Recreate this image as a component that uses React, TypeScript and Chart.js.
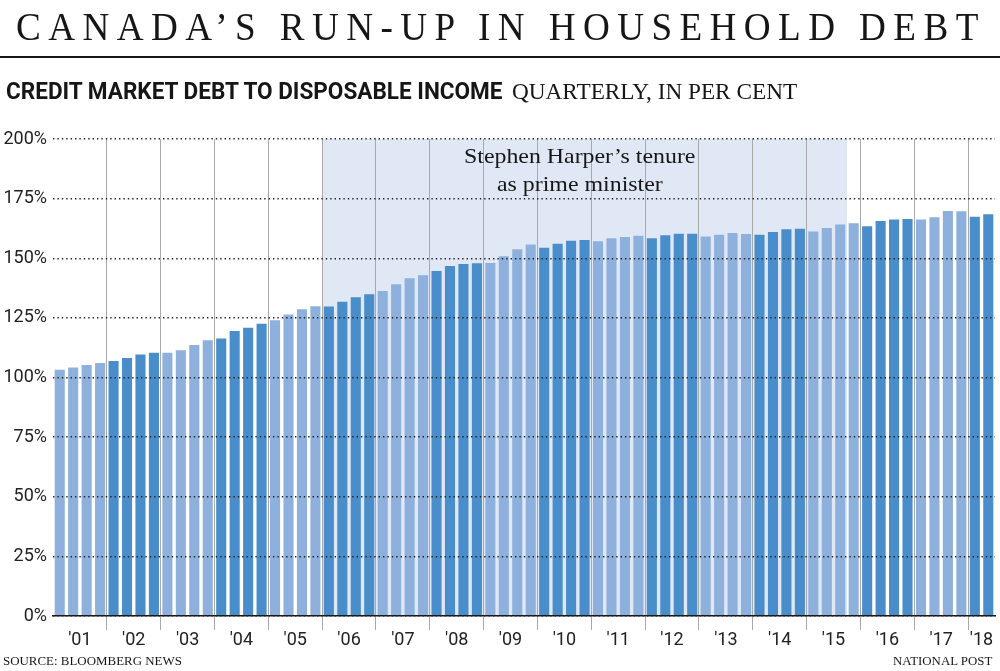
import React, { useEffect, useLayoutEffect, useRef, useState } from "react";
import { Chart, registerables } from "chart.js";

Chart.register(...registerables);

// ---------- DATA ----------
const years = [
  "2001", "2002", "2003", "2004", "2005", "2006", "2007", "2008", "2009",
  "2010", "2011", "2012", "2013", "2014", "2015", "2016", "2017", "2018",
];
const yearTickLabels = [
  "'01", "'02", "'03", "'04", "'05", "'06", "'07", "'08", "'09",
  "'10", "'11", "'12", "'13", "'14", "'15", "'16", "'17", "'18",
];
const quarterNames = ["Q1", "Q2", "Q3", "Q4"];
const quartersInLastYear = 2;

// Credit market debt to disposable income, quarterly, %
const debtRatio = [
  103.2, 104.2, 105.2, 106.1, // 2001
  106.9, 108.2, 109.6, 110.4, // 2002
  110.4, 111.4, 113.6, 115.6, // 2003
  116.3, 119.5, 120.9, 122.5, // 2004
  124.0, 126.4, 128.6, 129.9, // 2005
  129.8, 131.8, 133.6, 134.9, // 2006
  136.3, 139.1, 141.6, 142.9, // 2007
  144.7, 146.8, 147.6, 147.9, // 2008
  148.0, 150.8, 153.8, 155.8, // 2009
  154.4, 156.1, 157.3, 157.7, // 2010
  157.1, 158.4, 158.9, 159.4, // 2011
  158.4, 159.6, 160.3, 160.3, // 2012
  159.1, 159.9, 160.6, 160.2, // 2013
  159.9, 161.0, 162.2, 162.4, // 2014
  161.2, 162.7, 164.1, 164.7, // 2015
  163.4, 165.6, 166.2, 166.5, // 2016
  166.2, 167.2, 169.8, 169.7, // 2017
  167.4, 168.5,               // 2018
];

const harperFrom = "2006 Q1";
const harperTo = "2015 Q3";

const yMin = 0;
const yMax = 200;
const yStep = 25;

// ---------- STYLE ----------
const lightBar = "#8eb0dd";
const darkBar = "#4a8dcb";
const harperShade = "#e1e8f5";
const gridGray = "#a9a9a9";
const inkColor = "#161616";

// ---------- derived tables ----------
const categories: string[] = [];
const yearIndexOf: number[] = [];
years.forEach((y, yi) => {
  const n = yi === years.length - 1 ? quartersInLastYear : 4;
  for (let q = 0; q < n; q++) {
    categories.push(`${y} ${quarterNames[q]}`);
    yearIndexOf.push(yi);
  }
});
// label shown at the middle of each year's group
const tickLabelAt: string[] = categories.map(() => "");
years.forEach((y, yi) => {
  const first = yearIndexOf.indexOf(yi);
  const n = yearIndexOf.filter((v) => v === yi).length;
  tickLabelAt[first + n / 2 - 1] = yearTickLabels[yi];
});

function FitText(props: {
  text: string;
  left: number;
  top: number;
  width: number;
  style: React.CSSProperties;
}) {
  const ref = useRef<HTMLSpanElement>(null);
  const [sx, setSx] = useState(1);
  useLayoutEffect(() => {
    const measure = () => {
      if (!ref.current) return;
      const w = ref.current.offsetWidth;
      if (w > 0) setSx(props.width / w);
    };
    measure();
    if ((document as any).fonts && (document as any).fonts.ready) {
      (document as any).fonts.ready.then(measure);
    }
  }, [props.text, props.width]);
  return (
    <span
      ref={ref}
      style={{
        position: "absolute",
        left: props.left,
        top: props.top,
        whiteSpace: "nowrap",
        display: "inline-block",
        transformOrigin: "left top",
        transform: `scaleX(${sx})`,
        ...props.style,
      }}
    >
      {props.text}
    </span>
  );
}

function BarChart() {
  const ref = useRef<HTMLCanvasElement>(null);
  useEffect(() => {
    if (!ref.current) return;
    const bg = categories.map((_, i) => (yearIndexOf[i] % 2 === 0 ? lightBar : darkBar));

    const shadePlugin = {
      id: "harperShade",
      beforeDraw(chart: any) {
        const x = chart.scales.x;
        const { top, bottom } = chart.chartArea;
        const half = (x.getPixelForValue(1) - x.getPixelForValue(0)) / 2;
        const i0 = categories.indexOf(harperFrom);
        const i1 = categories.indexOf(harperTo);
        const left = x.getPixelForValue(i0) - half;
        const right = x.getPixelForValue(i1) + half;
        const ctx = chart.ctx;
        ctx.save();
        ctx.fillStyle = harperShade;
        ctx.fillRect(left, top, right - left, bottom - top);
        ctx.restore();
      },
    };

    const chart = new Chart(ref.current, {
      type: "bar",
      data: {
        labels: categories,
        datasets: [
          {
            data: debtRatio,
            backgroundColor: bg,
            borderWidth: 0,
            barPercentage: 0.75,
            categoryPercentage: 1,
          },
        ],
      },
      options: {
        responsive: false,
        animation: false,
        layout: { padding: { top: 139, right: 5, left: 0, bottom: 0 } },
        plugins: {
          legend: { display: false },
          tooltip: { enabled: false },
          title: { display: false },
        },
        scales: {
          x: {
            grid: {
              offset: true,
              color: (ctx: any) =>
                ctx.index !== undefined && ctx.index > 0 && ctx.index % 4 === 0
                  ? gridGray
                  : "rgba(0,0,0,0)",
              lineWidth: 1,
              tickLength: 14,
              z: -1,
            },
            border: { display: true, color: inkColor, width: 1.5, z: 1 },
            ticks: {
              autoSkip: false,
              maxRotation: 0,
              minRotation: 0,
              labelOffset: 6.73,
              padding: 0,
              color: "#222",
              font: { family: "Roboto", size: 18 },
              callback: (_v: any, i: number) => tickLabelAt[i],
            },
            afterFit: (s: any) => {
              s.height = 55;
            },
          },
          y: {
            min: yMin,
            max: yMax,
            ticks: {
              stepSize: yStep,
              padding: 6,
              color: "#222",
              font: { family: "Roboto", size: 18 },
              callback: (v: any) => `${v}%`,
            },
            grid: {
              color: "#222",
              lineWidth: 1.4,
              drawTicks: false,
              z: 1,
            },
            border: { display: false, dash: [1.4, 3] },
            afterFit: (s: any) => {
              s.width = 53;
            },
          },
        },
      } as any,
      plugins: [shadePlugin],
    });
    return () => chart.destroy();
  }, []);
  return (
    <canvas
      ref={ref}
      width={1000}
      height={671}
      style={{ position: "absolute", left: 0, top: 0, width: 1000, height: 671 }}
    />
  );
}

export default function App() {
  const serif = '"Liberation Serif", "Times New Roman", serif';
  return (
    <div
      style={{
        position: "absolute",
        left: 0,
        top: 0,
        width: 1000,
        height: 671,
        background: "#fff",
        overflow: "hidden",
        color: inkColor,
      }}
    >
      <BarChart />
      <FitText
        text="CANADA’S RUN-UP IN HOUSEHOLD DEBT"
        left={16}
        top={6.5}
        width={970}
        style={{ fontFamily: serif, fontSize: 40, lineHeight: "40px", letterSpacing: 8 }}
      />
      <div
        style={{
          position: "absolute",
          left: 0,
          top: 56,
          width: 1000,
          height: 2,
          background: inkColor,
        }}
      />
      <FitText
        text="CREDIT MARKET DEBT TO DISPOSABLE INCOME"
        left={6}
        top={78.8}
        width={497}
        style={{ fontFamily: "Roboto", fontWeight: 700, fontSize: 24, lineHeight: "24px" }}
      />
      <FitText
        text="QUARTERLY, IN PER CENT"
        left={512}
        top={79.7}
        width={285}
        style={{ fontFamily: serif, fontSize: 23, lineHeight: "23px" }}
      />
      <FitText
        text="Stephen Harper’s tenure"
        left={464}
        top={144.6}
        width={231}
        style={{ fontFamily: serif, fontSize: 22, lineHeight: "22px" }}
      />
      <FitText
        text="as prime minister"
        left={497}
        top={172.6}
        width={166}
        style={{ fontFamily: serif, fontSize: 22, lineHeight: "22px" }}
      />
      <FitText
        text="SOURCE: BLOOMBERG NEWS"
        left={3}
        top={654}
        width={179}
        style={{ fontFamily: serif, fontSize: 13, lineHeight: "13px" }}
      />
      <FitText
        text="NATIONAL POST"
        left={893}
        top={654}
        width={99}
        style={{ fontFamily: serif, fontSize: 13, lineHeight: "13px" }}
      />
    </div>
  );
}
